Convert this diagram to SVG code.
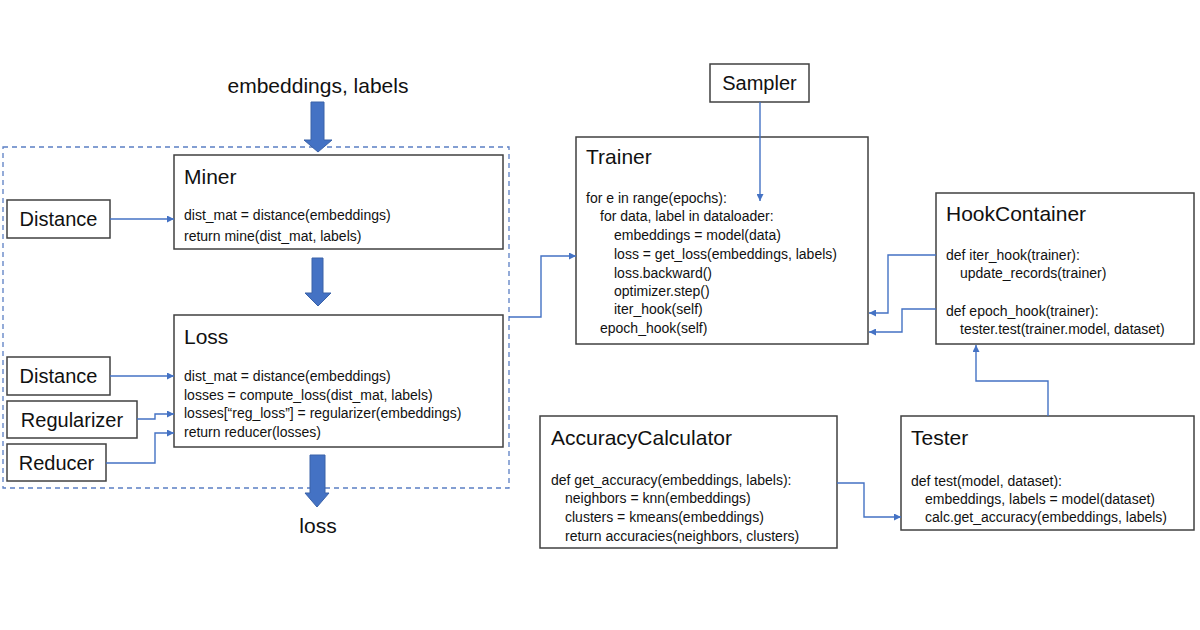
<svg xmlns="http://www.w3.org/2000/svg" width="1200" height="630" viewBox="0 0 1200 630">
<defs>
<style>
.box{fill:#fff;stroke:#404040;stroke-width:1.5}
.t{font-family:"Liberation Sans",Arial,sans-serif;fill:#111}
.title{font-size:21px}
.code{font-size:14px}
.lbl{font-size:20px}
.conn{fill:none;stroke:#4472C4;stroke-width:1.4}
.blk{fill:#4472C4;stroke:#3a62a8;stroke-width:1}
</style>
<marker id="ah" viewBox="0 0 10 10" refX="10" refY="5" markerWidth="7" markerHeight="7" markerUnits="userSpaceOnUse" orient="auto">
<path d="M0,0 L10,5 L0,10 z" fill="#4472C4"/>
</marker>
</defs>
<rect width="1200" height="630" fill="#fff"/>

<g id="container">
<rect x="3" y="147" width="506" height="341" fill="none" stroke="#5b7fc4" stroke-width="1.3" stroke-dasharray="5,4"/>
</g>

<g id="input-label"><text class="t" x="318" y="93" font-size="21" text-anchor="middle">embeddings, labels</text></g>
<g id="output-label"><text class="t" x="318" y="533" font-size="21" text-anchor="middle">loss</text></g>

<g id="block-arrows">
<path class="blk" d="M311,102 H324 V140 H332 L318,152 L304,140 H311 Z"/>
<path class="blk" d="M312,258 H323 V293 H331 L318,306 L305,293 H312 Z"/>
<path class="blk" d="M310,455 H325 V493 H329 L317,507 L305,493 H310 Z"/>
</g>

<g id="miner">
<rect class="box" x="174" y="155" width="329" height="94"/>
<text class="t title" x="184" y="184">Miner</text>
<text class="t code" x="184" y="220">dist_mat = distance(embeddings)</text>
<text class="t code" x="184" y="241">return mine(dist_mat, labels)</text>
</g>

<g id="distance1">
<rect class="box" x="7" y="200" width="103" height="38"/>
<text class="t lbl" x="58.5" y="226" text-anchor="middle">Distance</text>
</g>

<g id="loss">
<rect class="box" x="174" y="315" width="329" height="132"/>
<text class="t title" x="184" y="344">Loss</text>
<text class="t code" x="184" y="381">dist_mat = distance(embeddings)</text>
<text class="t code" x="184" y="400">losses = compute_loss(dist_mat, labels)</text>
<text class="t code" x="184" y="418">losses[“reg_loss”] = regularizer(embeddings)</text>
<text class="t code" x="184" y="437">return reducer(losses)</text>
</g>

<g id="distance2">
<rect class="box" x="7" y="357" width="103" height="38"/>
<text class="t lbl" x="58.5" y="383" text-anchor="middle">Distance</text>
</g>
<g id="regularizer">
<rect class="box" x="7" y="401" width="130" height="37"/>
<text class="t lbl" x="72" y="427" text-anchor="middle">Regularizer</text>
</g>
<g id="reducer">
<rect class="box" x="7" y="444" width="99" height="37"/>
<text class="t lbl" x="56.5" y="470" text-anchor="middle">Reducer</text>
</g>

<g id="sampler">
<rect class="box" x="710" y="64" width="99" height="38"/>
<text class="t lbl" x="759.5" y="90" text-anchor="middle">Sampler</text>
</g>

<g id="trainer">
<rect class="box" x="576" y="137" width="292" height="207"/>
<text class="t title" x="586" y="164">Trainer</text>
<text class="t code" x="586" y="203">for e in range(epochs):</text>
<text class="t code" x="600" y="221">for data, label in dataloader:</text>
<text class="t code" x="614" y="240">embeddings = model(data)</text>
<text class="t code" x="614" y="259">loss = get_loss(embeddings, labels)</text>
<text class="t code" x="614" y="278">loss.backward()</text>
<text class="t code" x="614" y="296">optimizer.step()</text>
<text class="t code" x="614" y="314">iter_hook(self)</text>
<text class="t code" x="600" y="333">epoch_hook(self)</text>
</g>

<g id="hookcontainer">
<rect class="box" x="936" y="193" width="258" height="151"/>
<text class="t title" x="946" y="221">HookContainer</text>
<text class="t code" x="946" y="260">def iter_hook(trainer):</text>
<text class="t code" x="960" y="278">update_records(trainer)</text>
<text class="t code" x="946" y="316">def epoch_hook(trainer):</text>
<text class="t code" x="960" y="334">tester.test(trainer.model, dataset)</text>
</g>

<g id="accuracycalculator">
<rect class="box" x="540" y="416" width="297" height="132"/>
<text class="t title" x="551" y="445">AccuracyCalculator</text>
<text class="t code" x="551" y="485">def get_accuracy(embeddings, labels):</text>
<text class="t code" x="565" y="503">neighbors = knn(embeddings)</text>
<text class="t code" x="565" y="522">clusters = kmeans(embeddings)</text>
<text class="t code" x="565" y="541">return accuracies(neighbors, clusters)</text>
</g>

<g id="tester">
<rect class="box" x="901" y="416" width="293" height="114"/>
<text class="t title" x="911" y="445">Tester</text>
<text class="t code" x="911" y="486">def test(model, dataset):</text>
<text class="t code" x="925" y="504">embeddings, labels = model(dataset)</text>
<text class="t code" x="925" y="522">calc.get_accuracy(embeddings, labels)</text>
</g>

<g id="connectors">
<path class="conn" marker-end="url(#ah)" d="M110,219 H174"/>
<path class="conn" marker-end="url(#ah)" d="M110,376 H174"/>
<path class="conn" marker-end="url(#ah)" d="M137,419 H155 V414 H174"/>
<path class="conn" marker-end="url(#ah)" d="M106,463 H155 V433 H174"/>
<path class="conn" marker-end="url(#ah)" d="M509,317 H541 V256 H576"/>
<path class="conn" marker-end="url(#ah)" d="M760,102 V201"/>
<path class="conn" marker-end="url(#ah)" d="M936,255 H888 V313 H869"/>
<path class="conn" marker-end="url(#ah)" d="M936,309 H902 V332 H869"/>
<path class="conn" marker-end="url(#ah)" d="M1048,416 V381 H976 V345"/>
<path class="conn" marker-end="url(#ah)" d="M837,483 H864 V517 H901"/>
</g>
</svg>
